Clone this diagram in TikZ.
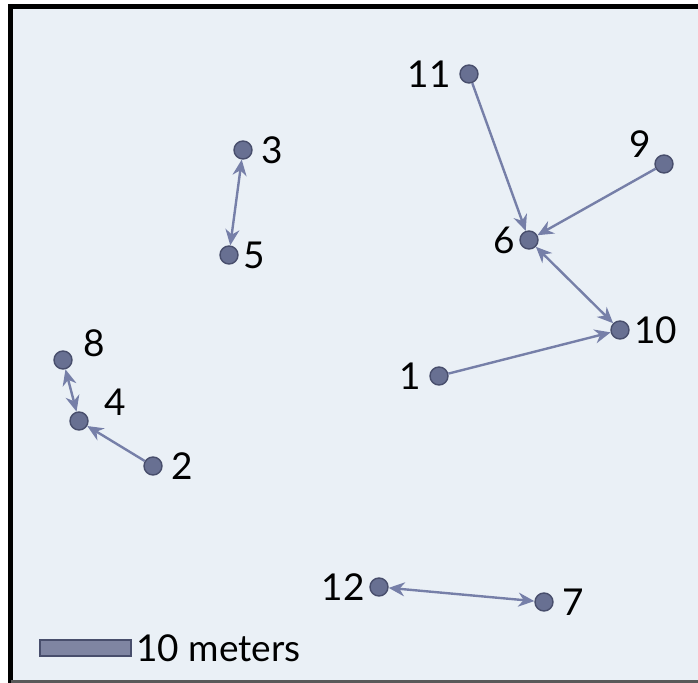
\documentclass[tikz,border=0pt]{standalone}
\usepackage{fontspec}
\setmainfont{Lato}
\usetikzlibrary{arrows.meta,positioning}
\definecolor{bgc}{RGB}{234,240,246}
\definecolor{dotfill}{RGB}{104,112,146}
\definecolor{dotline}{RGB}{72,78,108}
\definecolor{linkc}{RGB}{118,127,168}
\begin{document}
\begin{tikzpicture}[x=0.5pt, y=-0.5pt,
  stn/.style={circle, draw=dotline, fill=dotfill, line width=0.7pt, inner sep=0pt, minimum size=9pt},
  lbl/.style={font=\fontsize{18.5}{18.5}\selectfont, inner sep=1pt, text=black},
  link/.style={draw=linkc, line width=1.2pt, -{Stealth[length=8pt,width=7pt]}},
  both/.style={link, {Stealth[length=8pt,width=7pt]}-{Stealth[length=8pt,width=7pt]}},
  label distance=3pt]
\useasboundingbox (0,0) rectangle (698,683);
% frame
\fill[bgc] (13,9) rectangle (698,680);
\draw[line width=2.5pt] (10.5,683) -- (10.5,6.5) -- (698,6.5);
\draw[gray!70!black, line width=1.5pt] (10.5,681.5) -- (698,681.5);

\node[stn, label={[lbl]left:1}] (n1) at (439,376) {};
\node[stn, label={[lbl]right:2}] (n2) at (153,466) {};
\node[stn, label={[lbl]right:3}] (n3) at (243,150) {};
\node[stn, label={[lbl, label distance=7pt]8:4}] (n4) at (79,421) {};
\node[stn, label={[lbl, label distance=1pt]right:5}] (n5) at (229,255) {};
\node[stn, label={[lbl, label distance=1pt]left:6}] (n6) at (529,240) {};
\node[stn, label={[lbl]right:7}] (n7) at (544,602) {};
\node[stn, label={[lbl, label distance=4pt]4:8}] (n8) at (63,360) {};
\node[stn, label={[lbl, label distance=1pt]160:9}] (n9) at (664,164) {};
\node[stn, label={[lbl, label distance=1pt]right:10}] (n10) at (620,330) {};
\node[stn, label={[lbl]left:11}] (n11) at (469,74) {};
\node[stn, label={[lbl, label distance=1pt]left:12}] (n12) at (379,587) {};

\draw[link] (n11) -- (n6);
\draw[link] (n9) -- (n6);
\draw[both] (n6) -- (n10);
\draw[link] (n1) -- (n10);
\draw[both] (n3) -- (n5);
\draw[both] (n8) -- (n4);
\draw[link] (n2) -- (n4);
\draw[both] (n12) -- (n7);

% scale bar
\node[draw=dotline, fill=dotfill!85!white, line width=0.8pt, minimum width=45.5pt, minimum height=8pt, inner sep=0pt] (bar) at (85.5,648) {};
\node[lbl, right=1pt of bar] (barlbl) {10 meters};
\end{tikzpicture}
\end{document}
